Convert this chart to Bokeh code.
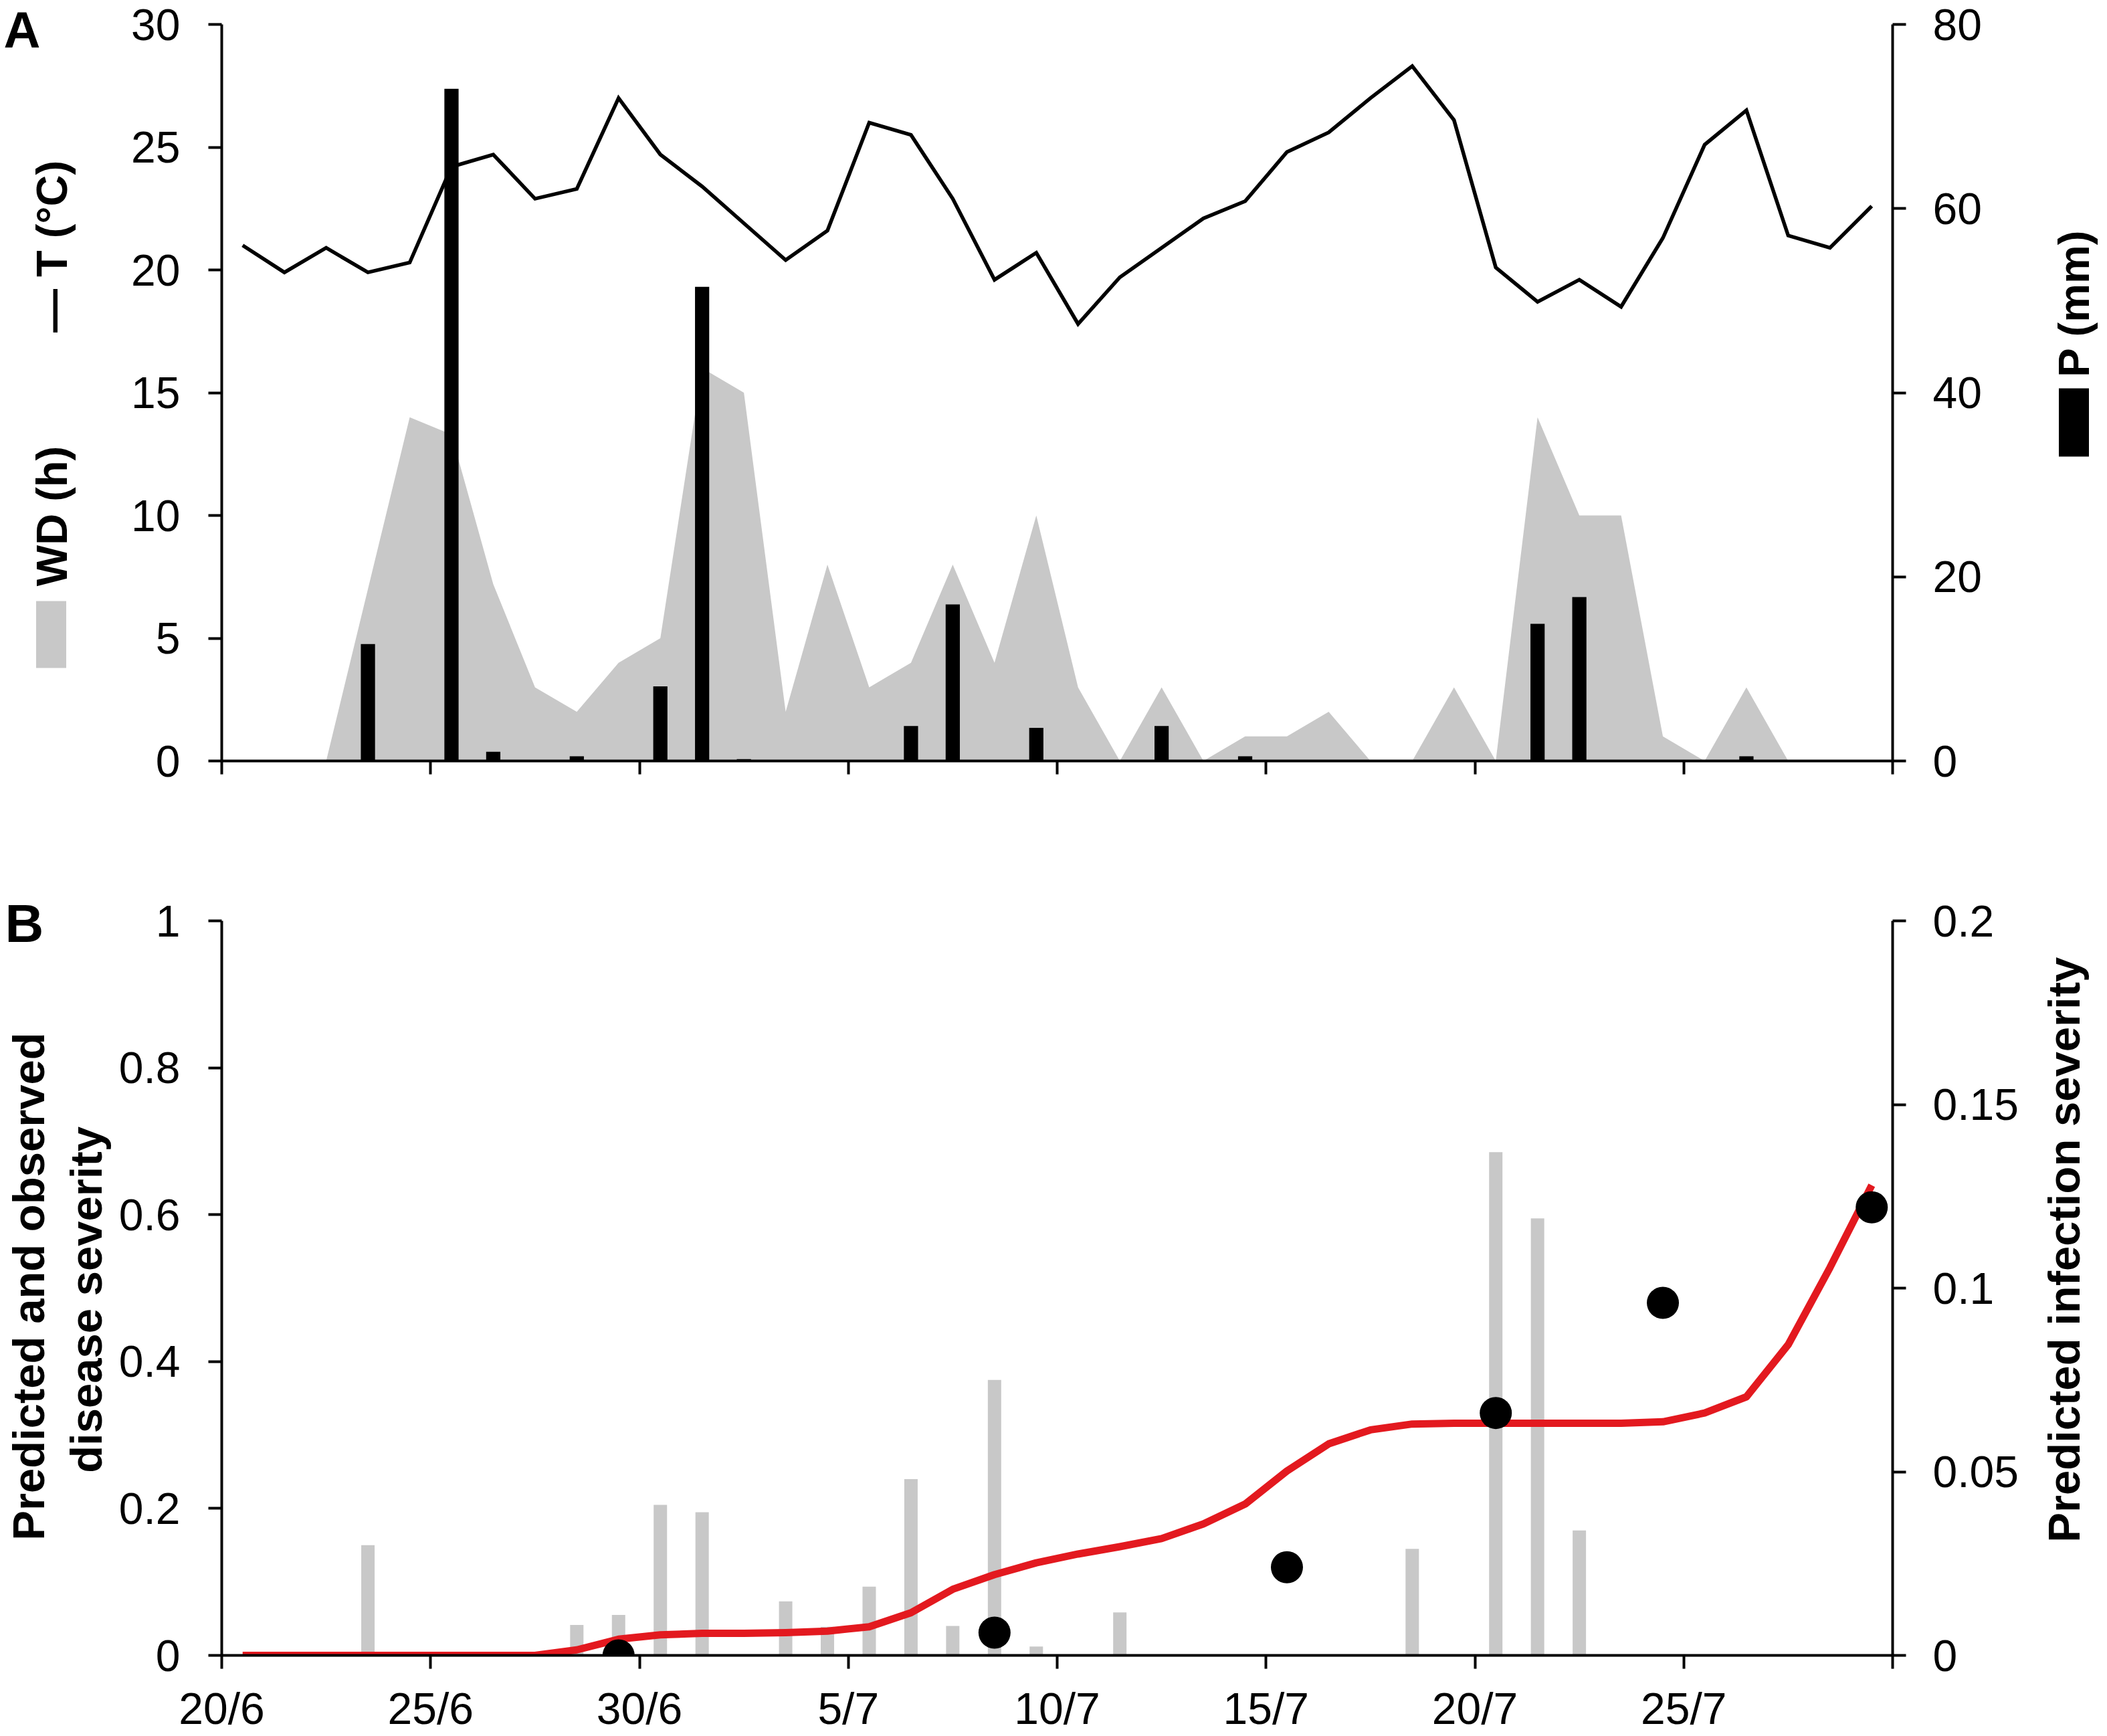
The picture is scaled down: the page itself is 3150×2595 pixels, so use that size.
import math
from bokeh.plotting import figure
from bokeh.models import Range1d, LinearAxis, FixedTicker, NumeralTickFormatter
from bokeh.layouts import column
from bokeh.embed import file_html
from bokeh.resources import INLINE
from bokeh.core.properties import value

# ---------------- data ----------------
dates = ["20/6", "21/6", "22/6", "23/6", "24/6", "25/6", "26/6", "27/6", "28/6", "29/6",
         "30/6", "1/7", "2/7", "3/7", "4/7", "5/7", "6/7", "7/7", "8/7", "9/7",
         "10/7", "11/7", "12/7", "13/7", "14/7", "15/7", "16/7", "17/7", "18/7", "19/7",
         "20/7", "21/7", "22/7", "23/7", "24/7", "25/7", "26/7", "27/7", "28/7", "29/7"]

temperature = [21.0, 19.9, 20.9, 19.9, 20.3, 24.2, 24.7, 22.9, 23.3, 27.0,
               24.7, 23.4, 21.9, 20.4, 21.6, 26.0, 25.5, 22.9, 19.6, 20.7,
               17.8, 19.7, 20.9, 22.1, 22.8, 24.8, 25.6, 27.0, 28.3, 26.1,
               20.1, 18.7, 19.6, 18.5, 21.3, 25.1, 26.5, 21.4, 20.9, 22.6]

precipitation = [0, 0, 0, 12.7, 0, 73.0, 1.0, 0, 0.5, 0,
                 8.1, 51.5, 0.2, 0, 0, 0, 3.8, 17.0, 0, 3.6,
                 0, 0, 3.8, 0, 0.5, 0, 0, 0, 0, 0,
                 0, 14.9, 17.8, 0, 0, 0, 0.5, 0, 0, 0]

wetness = [0, 0, 0, 7, 14, 13.3, 7.2, 3, 2, 4,
           5, 16, 15, 2, 8, 3, 4, 8, 4, 10,
           3, 0, 3, 0, 1, 1, 2, 0, 0, 3,
           0, 14, 10, 10, 1, 0, 3, 0, 0, 0]

infection = [0, 0, 0, 0.030, 0, 0, 0, 0, 0.0083, 0.011,
             0.041, 0.039, 0, 0.0147, 0.0078, 0.0187, 0.048, 0.008, 0.075, 0.0024,
             0, 0.0117, 0, 0, 0, 0, 0, 0, 0.029, 0,
             0.137, 0.119, 0.034, 0, 0, 0, 0, 0, 0, 0]

disease = [0, 0, 0, 0, 0, 0, 0, 0, 0.0075, 0.022,
           0.028, 0.030, 0.030, 0.031, 0.033, 0.039, 0.058, 0.090, 0.110, 0.126,
           0.138, 0.148, 0.159, 0.179, 0.206, 0.251, 0.288, 0.307, 0.315, 0.316,
           0.316, 0.316, 0.316, 0.316, 0.318, 0.330, 0.352, 0.423, 0.528, 0.640]

observed_dates = ["29/6", "8/7", "15/7", "20/7", "24/7", "29/7"]
observed = [0.0, 0.031, 0.12, 0.33, 0.48, 0.61]

x_tick_labels = ["20/6", "25/6", "30/6", "5/7", "10/7", "15/7", "20/7", "25/7", ""]
t_ticks = [0, 5, 10, 15, 20, 25, 30]
p_ticks = [0, 20, 40, 60, 80]
ds_ticks = [0, 0.2, 0.4, 0.6, 0.8, 1]
is_ticks = [0, 0.05, 0.1, 0.15, 0.2]

# ---------------- helpers ----------------
FONT = "Liberation Sans"
GREY = "#c8c8c8"
RED = "#e3191f"
W = 3148
HA = 1250
HB = 1343

xs = [i + 0.5 for i in range(len(dates))]
obs_x = [dates.index(d) + 0.5 for d in observed_dates]
x_ticks = [5 * i for i in range(len(x_tick_labels))]

FRAME_L, FRAME_R = 331, 2829
XPX = (FRAME_R - FRAME_L) / 40.0
A_TOP, A_BOT = 36, 1137
B_TOP, B_BOT = 1376, 2479


def ax_(px):
    return (px - FRAME_L) / XPX


def ayA(py):
    return (A_BOT - py) / (A_BOT - A_TOP) * 30.0


def ayB(py):
    return (B_BOT - py) / (B_BOT - B_TOP) * 1.0


def style_axis(ax, standoff):
    ax.axis_line_width = 4
    ax.axis_line_color = "black"
    ax.major_tick_line_width = 4
    ax.major_tick_line_color = "black"
    ax.major_tick_out = 20
    ax.major_tick_in = 0
    ax.minor_tick_line_color = None
    ax.major_label_text_font = FONT
    ax.major_label_text_font_size = "66px"
    ax.major_label_text_color = "black"
    ax.major_label_standoff = standoff


def base_fig(height, top, bottom, y_range):
    p = figure(width=W, height=height, x_range=Range1d(0, 40), y_range=y_range,
               output_backend="svg", toolbar_location=None,
               min_border_left=FRAME_L, min_border_right=W - FRAME_R,
               min_border_top=top, min_border_bottom=bottom)
    p.grid.visible = False
    p.outline_line_color = None
    p.background_fill_color = "white"
    p.border_fill_color = "white"
    return p


def title_text(p, text, x, y, size="65px", angle=0.0, align="center"):
    p.text(x=[x], y=[y], text=[text], angle=angle, text_font=value(FONT),
           text_font_style=value("bold"), text_font_size=value(size),
           text_color="black", text_align=value(align), text_baseline=value("middle"),
           level="annotation")


# ---------------- panel A ----------------
pA = base_fig(HA, A_TOP, HA - A_BOT, Range1d(0, 30))
pA.extra_y_ranges = {"P": Range1d(0, 80)}

pA.varea(x=xs, y1=[0] * len(xs), y2=wetness, fill_color=GREY, fill_alpha=1)
pA.vbar(x=xs, top=precipitation, width=0.34, bottom=0, y_range_name="P",
        fill_color="black", line_color=None)
pA.line(x=xs, y=temperature, line_color="black", line_width=5.5, line_join="miter")

axR = LinearAxis(y_range_name="P", ticker=FixedTicker(ticks=p_ticks))
pA.add_layout(axR, "right")
style_axis(axR, 40)

pA.yaxis[0].ticker = FixedTicker(ticks=t_ticks)
style_axis(pA.yaxis[0], 42)
pA.xaxis.ticker = FixedTicker(ticks=x_ticks)
style_axis(pA.xaxis[0], 0)
pA.xaxis.major_label_text_font_size = "0px"

title_text(pA, "A", ax_(5), ayA(44), size="76px", align="left")
title_text(pA, "— T (°C)", ax_(77), ayA(368), angle=math.pi / 2)
title_text(pA, "WD (h)", ax_(77), ayA(771), angle=math.pi / 2)
pA.rect(x=[ax_(76)], y=[ayA(948)], width=45, height=100, width_units="screen",
        height_units="screen", fill_color=GREY, line_color=None, level="annotation")
title_text(pA, "P (mm)", ax_(3100), ayA(453), angle=math.pi / 2)
pA.rect(x=[ax_(3100)], y=[ayA(631)], width=45, height=102, width_units="screen",
        height_units="screen", fill_color="black", line_color=None, level="annotation")

# ---------------- panel B ----------------
pB = base_fig(HB, B_TOP - HA, HA + HB - B_BOT, Range1d(0, 1))
pB.extra_y_ranges = {"I": Range1d(0, 0.2)}

pB.vbar(x=xs, top=infection, width=0.32, bottom=0, y_range_name="I",
        fill_color=GREY, line_color=None)
pB.line(x=xs, y=disease, line_color=RED, line_width=11, line_join="round")
pB.scatter(x=obs_x, y=observed, size=48, fill_color="black", line_color=None)

axRB = LinearAxis(y_range_name="I", ticker=FixedTicker(ticks=is_ticks),
                  formatter=NumeralTickFormatter(format="0.[00]"))
pB.add_layout(axRB, "right")
style_axis(axRB, 40)

pB.yaxis[0].ticker = FixedTicker(ticks=ds_ticks)
pB.yaxis[0].formatter = NumeralTickFormatter(format="0.[00]")
style_axis(pB.yaxis[0], 42)
pB.xaxis.ticker = FixedTicker(ticks=x_ticks)
pB.xaxis.major_label_overrides = {t: lab for t, lab in zip(x_ticks, x_tick_labels)}
style_axis(pB.xaxis[0], 22)

title_text(pB, "B", ax_(7), ayB(1380), size="80px", align="left")
title_text(pB, "Predicted and observed", ax_(42), ayB(1925), size="67px", angle=math.pi / 2)
title_text(pB, "disease severity", ax_(128), ayB(1945), size="67px", angle=math.pi / 2)
title_text(pB, "Predicted infection severity", ax_(3085), ayB(1870), size="67px",
           angle=math.pi / 2)

layout = column(pA, pB)
open("out.html", "w").write(file_html(layout, INLINE))
